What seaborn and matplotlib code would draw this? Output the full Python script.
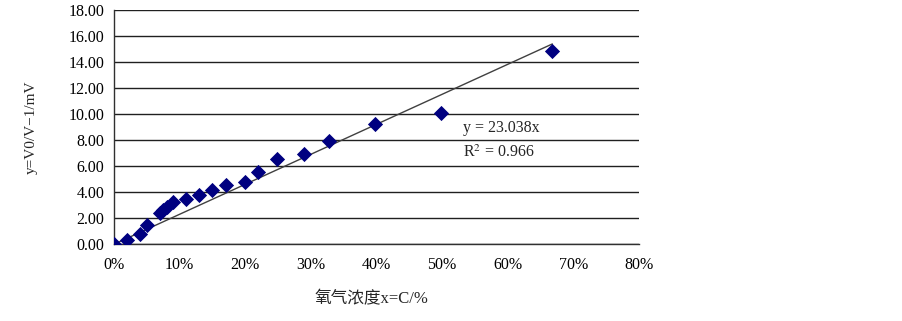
import numpy as np
import pandas as pd
import seaborn as sns
import matplotlib.pyplot as plt
from matplotlib.ticker import PercentFormatter, FormatStrFormatter

# oxygen concentration (fraction) and response y = V0/V - 1
conc = [0.0, 0.02, 0.04, 0.05, 0.07, 0.075, 0.081, 0.09, 0.11, 0.129, 0.15,
        0.17, 0.20, 0.22, 0.249, 0.289, 0.328, 0.398, 0.498, 0.668]
resp = [0.0, 0.33, 0.77, 1.46, 2.43, 2.64, 2.84, 3.27, 3.46, 3.79, 4.17,
        4.56, 4.81, 5.56, 6.56, 6.94, 7.96, 9.27, 10.07, 14.88]

slope = 23.038
eq_text = "y = 23.038x"
r2_text = "R$^2$ = 0.966"
x_label = "氧气浓度x=C/%"
y_label = "y=V0/V\u22121/mV"

df = pd.DataFrame({"conc": conc, "resp": resp})
trend = pd.DataFrame({"conc": [0.0, max(conc)]})
trend["resp"] = slope * trend["conc"]

sns.set_theme(style="white")
plt.rcParams["font.family"] = ["Liberation Serif", "Noto Sans CJK SC"]
plt.rcParams["mathtext.fontset"] = "stix"

fig = plt.figure(figsize=(9.03, 3.21), dpi=100)
ax = fig.add_axes([0.1262, 0.239, 0.5814, 0.730])

sns.lineplot(data=trend, x="conc", y="resp", ax=ax, color="#404040", linewidth=1.0)
sns.scatterplot(data=df, x="conc", y="resp", ax=ax, marker="D", s=60,
                color="#000080", edgecolor="#000080", linewidth=0, zorder=5)

ax.set_xlim(0, 0.8)
ax.set_ylim(0, 18)
ax.set_xticks(np.arange(0, 0.81, 0.1))
ax.set_yticks(np.arange(0, 18.1, 2))
ax.xaxis.set_major_formatter(PercentFormatter(1.0, decimals=0))
ax.yaxis.set_major_formatter(FormatStrFormatter("%.2f"))
ax.grid(axis="y", color="#202020", linewidth=1.0)
ax.set_axisbelow(True)
for side in ["top", "right"]:
    ax.spines[side].set_visible(False)
for side in ["left", "bottom"]:
    ax.spines[side].set_color("#303030")
    ax.spines[side].set_linewidth(1.0)
ax.tick_params(axis="both", direction="out", length=4, width=1.0,
               color="#303030", labelsize=11.5, labelcolor="black")
ax.tick_params(axis="x", pad=5)
ax.tick_params(axis="y", pad=3)

ax.set_xlabel(x_label, fontsize=12)
ax.xaxis.set_label_coords(0.49, -0.2)
ax.set_ylabel(y_label, fontsize=11)
ax.yaxis.set_label_coords(-0.145, 0.50)

ax.text(0.532, 8.95, eq_text, fontsize=11.5, va="center", ha="left")
ax.text(0.532, 7.0, r2_text, fontsize=11.5, va="center", ha="left")

fig.savefig("out.png", dpi=100)
